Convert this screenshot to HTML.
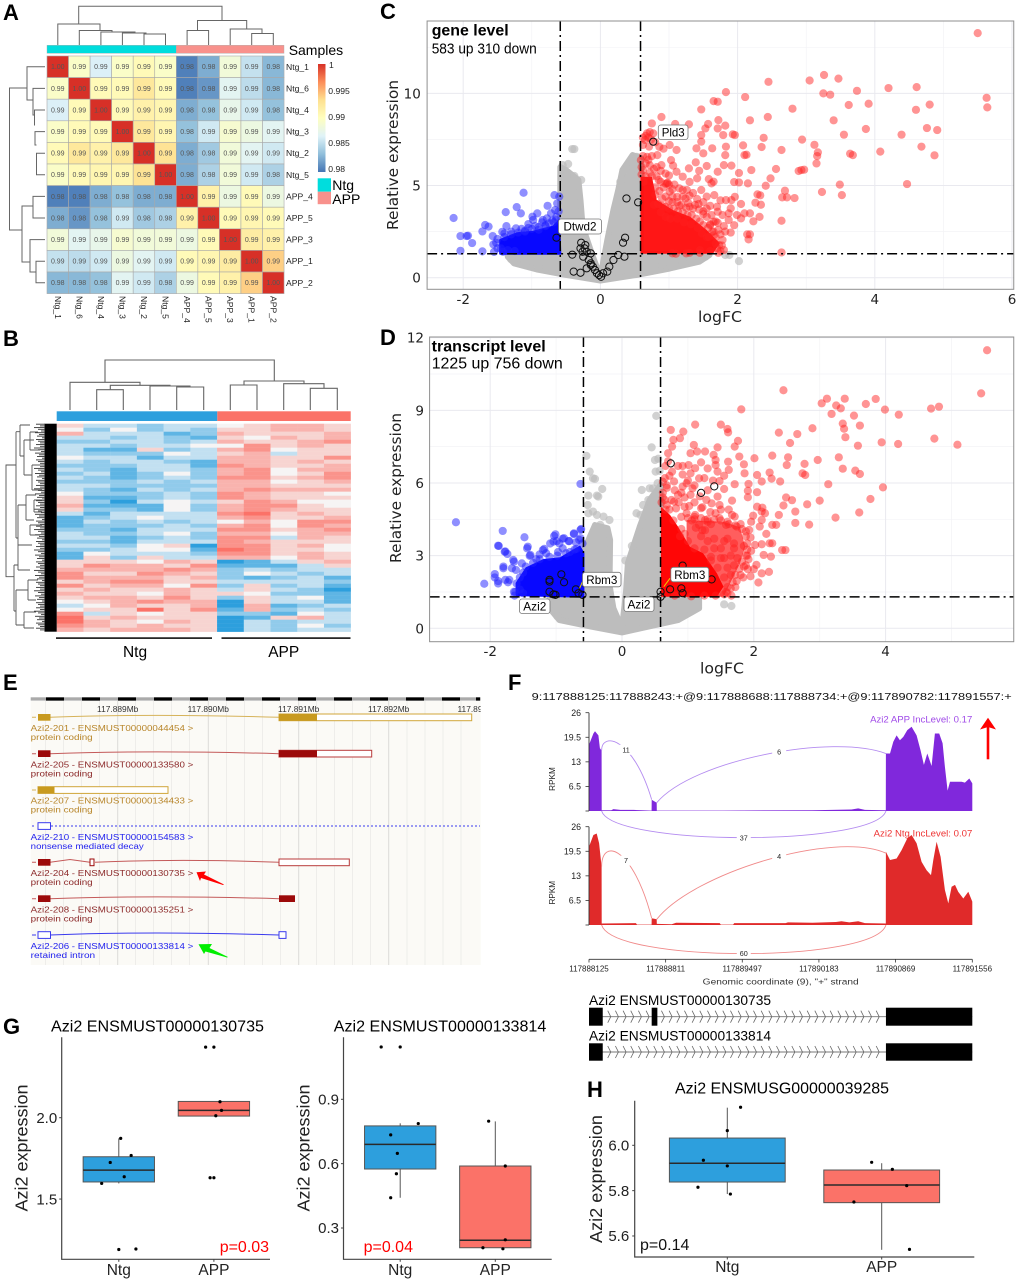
<!DOCTYPE html>
<html lang="en">
<head>
<meta charset="utf-8">
<title>Azi2 multi-panel figure</title>
<style>
html,body{margin:0;padding:0;background:#fff;}
svg{display:block;font-family:"Liberation Sans",Arial,sans-serif;}
.letter{font-size:22px;font-weight:bold;fill:#000;}
.track-text{font-size:8.6px;}
.dv{font-family:"DejaVu Sans",sans-serif;}
</style>
</head>
<body>
<svg id="figure" xmlns="http://www.w3.org/2000/svg" width="1020" height="1284" viewBox="0 0 1020 1284">
<defs>
<linearGradient id="cbar" x1="0" y1="1" x2="0" y2="0">
<stop offset="0" stop-color="#4575B4"/><stop offset=".1667" stop-color="#91BFDB"/><stop offset=".3333" stop-color="#E0F3F8"/><stop offset=".5" stop-color="#FFFFBF"/><stop offset=".6667" stop-color="#FEE090"/><stop offset=".8333" stop-color="#FC8D59"/><stop offset="1" stop-color="#D73027"/>
</linearGradient>
</defs>

<!-- PANEL A -->
<g>
<text class="letter" x="3" y="20">A</text>
<path fill="none" stroke="#666" stroke-width="1" d="M78.7 24V6.3H222V20.5M57.8 45V24H100V30.5M79.3 45V30.5H112V32M100.9 45V32H135V33M122.4 45V33H146V34M144 45V34H165.5V45M197.5 30.5V20.5H246.7V29M187.1 45V30.5H208.6V45M230.2 45V29H262V33.5M251.7 45V33.5H273.3V45"/>
<path fill="none" stroke="#666" stroke-width="1" d="M27 88H9.5V230H22M45 66.8H27V100H33M45 88.4H33V115H34.5M45 110H34.5V125H35M45 131.6H35V145H36.5M45 153.2H36.5V174.8H45M45 196.4H33V218H45M33 206H22V262H30M45 239.6H30V272H36M45 261.2H36V282.8H45"/>
<rect x="47" y="45.3" width="129.3" height="8" fill="#00DDDD" stroke="#aaa" stroke-width=".4"/>
<rect x="176.3" y="45.3" width="107.7" height="8" fill="#F8918C" stroke="#aaa" stroke-width=".4"/>
<text x="288.7" y="55" font-size="14">Samples</text>
<g id="heat-a"></g>
<rect x="318" y="64" width="7.5" height="108" fill="url(#cbar)"/>
<g font-size="8.6" fill="#222">
<text x="329" y="68">1</text>
<text x="328.3" y="94">0.995</text>
<text x="328.3" y="120">0.99</text>
<text x="328.3" y="146">0.985</text>
<text x="328.3" y="172">0.98</text>
</g>
<rect x="317.7" y="178.3" width="13.3" height="13.4" fill="#00DDDD"/>
<rect x="317.7" y="191.7" width="13.3" height="12.5" fill="#F8918C"/>
<text x="332.3" y="190" font-size="14">Ntg</text>
<text x="332.3" y="204" font-size="14">APP</text>
</g>

<!-- PANEL B -->
<g>
<text class="letter" x="3" y="346">B</text>
<path fill="none" stroke="#666" stroke-width="1.1" d="M105 382.3V360H274.3V381M70 410V382.3H140V385.3M110.3 389.7V385.3H170V386M96.7 410V389.7H123.3V410M150 410V386H190V387M176.7 410V387H203.7V410M244 385V381H304V383.7M230.3 410V385H257V410M283.7 410V383.7H324V388.3M310.3 410V388.3H337.3V410"/>
<rect x="56.7" y="411.3" width="160.6" height="9.7" fill="#2D9FDD"/>
<rect x="217.3" y="411.3" width="133.4" height="9.7" fill="#FB7268"/>
<g id="heat-b"></g>
<rect x="44.5" y="423.7" width="12.2" height="208" fill="#000"/>
<g id="gene-comb"></g>
<path fill="none" stroke="#555" stroke-width=".9" d="M16 465H6V576.7H14M16 431.7V538M14 565V611M16 431.7H20M16 538H18M20 425V456M20 425H30M20 456H24M18 505V560M18 505H26M24 440V475M24 440H34M24 475H32M26 495V520M26 495H36M26 520H34M14 565H18M14 611H16M16 590V625M16 590H28M16 625H24M28 580V600M28 580H38M28 600H36M24 612V628M24 612H36M24 628H34M18 545V570M18 545H32M18 570H30M30 432V450M30 432H38M30 450H40M32 465V490M32 465H42M32 490H42M34 500V512M34 500H42M34 512H42M30 525V535M30 525H42M30 535H40"/>
<rect x="56" y="637.3" width="156" height="1.6" fill="#111"/>
<rect x="221.5" y="637.3" width="129" height="1.6" fill="#111"/>
<text x="135" y="657" text-anchor="middle" font-size="15.5">Ntg</text>
<text x="283.7" y="657" text-anchor="middle" font-size="15.5">APP</text>
</g>

<!-- PANEL C -->
<g>
<text class="letter" x="380" y="19">C</text>
<g id="volcano-c"></g>
<text x="431.7" y="35.7" font-size="16" font-weight="bold" textLength="77" lengthAdjust="spacingAndGlyphs">gene level</text>
<text x="431.7" y="53.3" font-size="14.5" textLength="105" lengthAdjust="spacingAndGlyphs">583 up 310 down</text>
<g><rect x="558.5" y="219" width="43" height="15" rx="2.5" fill="#fff" stroke="#777" stroke-width=".8"/><text x="580" y="230.5" text-anchor="middle" font-size="12" textLength="33" lengthAdjust="spacingAndGlyphs">Dtwd2</text></g>
<g><rect x="658.3" y="125" width="29.7" height="14.5" rx="2.5" fill="#fff" stroke="#777" stroke-width=".8"/><text x="673.2" y="136.5" text-anchor="middle" font-size="12" textLength="23" lengthAdjust="spacingAndGlyphs">Pld3</text></g>
<text class="dv" x="398" y="155" transform="rotate(-90 398 155)" text-anchor="middle" font-size="15" textLength="150" lengthAdjust="spacingAndGlyphs" fill="#222">Relative expression</text>
<text class="dv" x="720" y="322" text-anchor="middle" font-size="15" textLength="44" lengthAdjust="spacingAndGlyphs" fill="#222">logFC</text>
</g>

<!-- PANEL D -->
<g>
<text class="letter" x="380" y="345">D</text>
<g id="volcano-d"></g>
<text x="431.7" y="351.7" font-size="16" font-weight="bold" textLength="114" lengthAdjust="spacingAndGlyphs">transcript level</text>
<text x="431.7" y="368.3" font-size="16" textLength="131" lengthAdjust="spacingAndGlyphs">1225 up 756 down</text>
<path d="M579.6 588.3L582.5 581.7" stroke="#e6d200" stroke-width="1"/>
<path d="M663.8 586.7L670 578.3" stroke="#e6d200" stroke-width="1"/>
<g><rect x="519.5" y="599" width="30.5" height="14.5" rx="2.5" fill="#fff" stroke="#777" stroke-width=".8"/><text x="534.8" y="610.5" text-anchor="middle" font-size="12" textLength="23" lengthAdjust="spacingAndGlyphs">Azi2</text></g>
<g><rect x="582.5" y="572.3" width="38.5" height="14.5" rx="2.5" fill="#fff" stroke="#777" stroke-width=".8"/><text x="601.8" y="583.8" text-anchor="middle" font-size="12" textLength="31" lengthAdjust="spacingAndGlyphs">Rbm3</text></g>
<g><rect x="624" y="597" width="30" height="14.5" rx="2.5" fill="#fff" stroke="#777" stroke-width=".8"/><text x="639" y="608.5" text-anchor="middle" font-size="12" textLength="23" lengthAdjust="spacingAndGlyphs">Azi2</text></g>
<g><rect x="670.8" y="567.3" width="38" height="14.5" rx="2.5" fill="#fff" stroke="#777" stroke-width=".8"/><text x="689.8" y="578.8" text-anchor="middle" font-size="12" textLength="31" lengthAdjust="spacingAndGlyphs">Rbm3</text></g>
<text class="dv" x="401" y="488" transform="rotate(-90 401 488)" text-anchor="middle" font-size="15" textLength="150" lengthAdjust="spacingAndGlyphs" fill="#222">Relative expression</text>
<text class="dv" x="722" y="673.5" text-anchor="middle" font-size="15" textLength="44" lengthAdjust="spacingAndGlyphs" fill="#222">logFC</text>
</g>

<!-- PANEL E -->
<g>
<text class="letter" x="3" y="690">E</text>
<rect x="30.7" y="701" width="450" height="264" fill="#fbfaf6"/>
<path stroke="#eeedea" stroke-width="1" d="M45.5 701V965M63.5 701V965M81.5 701V965M99.5 701V965M135.5 701V965M153.5 701V965M171.5 701V965M189.5 701V965M226.5 701V965M244.5 701V965M262.5 701V965M280.5 701V965M316.5 701V965M334.5 701V965M352.5 701V965M370.5 701V965M407 701V965M425 701V965M443 701V965M461 701V965"/>
<path stroke="#dcdbd8" stroke-width="1" d="M117.7 701V965M208.3 701V965M298.7 701V965M388.7 701V965"/>
<rect x="30.7" y="697.3" width="450" height="3.3" fill="#aaa"/>
<path stroke="#000" stroke-width="3.3" d="M46 699H64M82 699H100M118 699H136M154 699H172M190 699H208M226 699H244M262 699H280M298 699H316M334 699H352M370 699H388M406 699H424M442 699H460M476 699H480"/>
<g font-size="8.4" fill="#333" text-anchor="middle">
<text x="117.7" y="712">117.889Mb</text>
<text x="208.3" y="712">117.890Mb</text>
<text x="298.7" y="712">117.891Mb</text>
<text x="388.7" y="712">117.892Mb</text>
<text x="457.5" y="712" text-anchor="start">117.89</text>
</g>
<rect x="480.7" y="703" width="20" height="12" fill="#fff"/>
<g>
<path d="M32 717.3H36M50 717.3Q150 713.5 279 717.3" fill="none" stroke="#d6b35a" stroke-width="1"/>
<rect x="38" y="714" width="12.5" height="6.7" fill="#C89A1F"/><rect x="279" y="714" width="192.7" height="6.7" fill="#fff" stroke="#d0a63a" stroke-width="1"/><rect x="279" y="714" width="38" height="6.7" fill="#C89A1F"/>
<text class="track-text" fill="#b8862b" x="30.7" y="731" textLength="162.6" lengthAdjust="spacingAndGlyphs">Azi2-201 - ENSMUST00000044454 &gt;</text>
<text class="track-text" fill="#b8862b" x="30.7" y="740" textLength="62" lengthAdjust="spacingAndGlyphs">protein coding</text>
</g>
<g>
<path d="M32 753.7H36M50 753.7Q150 750 279 753.7" fill="none" stroke="#c45a5a" stroke-width="1"/>
<rect x="38" y="750.3" width="12.5" height="6.7" fill="#9C0A0A"/><rect x="279" y="750.3" width="92.7" height="6.7" fill="#fff" stroke="#b83a3a" stroke-width="1"/><rect x="279" y="750.3" width="38" height="6.7" fill="#9C0A0A"/>
<text class="track-text" fill="#8c2a2a" x="30.7" y="767.3" textLength="162.6" lengthAdjust="spacingAndGlyphs">Azi2-205 - ENSMUST00000133580 &gt;</text>
<text class="track-text" fill="#8c2a2a" x="30.7" y="776.3" textLength="62" lengthAdjust="spacingAndGlyphs">protein coding</text>
</g>
<g>
<path d="M32 790H36" stroke="#d6b35a" stroke-width="1"/>
<rect x="38" y="786.7" width="130" height="6.7" fill="#fff" stroke="#d0a63a" stroke-width="1"/><rect x="38" y="786.7" width="16.5" height="6.7" fill="#C89A1F"/>
<text class="track-text" fill="#b8862b" x="30.7" y="803.7" textLength="162.6" lengthAdjust="spacingAndGlyphs">Azi2-207 - ENSMUST00000134433 &gt;</text>
<text class="track-text" fill="#b8862b" x="30.7" y="812.7" textLength="62" lengthAdjust="spacingAndGlyphs">protein coding</text>
</g>
<g>
<path d="M32 826H36M51 826H480" fill="none" stroke="#3a3aee" stroke-width="1" stroke-dasharray="2 2"/>
<rect x="38" y="822.7" width="12.5" height="6.7" fill="#fff" stroke="#3a3aee" stroke-width="1"/>
<text class="track-text" fill="#2222ee" x="30.7" y="840" textLength="162.6" lengthAdjust="spacingAndGlyphs">Azi2-210 - ENSMUST00000154583 &gt;</text>
<text class="track-text" fill="#2222ee" x="30.7" y="849" textLength="113" lengthAdjust="spacingAndGlyphs">nonsense mediated decay</text>
</g>
<g>
<path d="M32 862.3H36M50 862.3L70 859.5L90 862.3M95 862.3Q180 858.5 279 862.3" fill="none" stroke="#c45a5a" stroke-width="1"/>
<rect x="38" y="859" width="12.5" height="6.7" fill="#9C0A0A"/><rect x="90" y="859" width="4" height="6.7" fill="#fff" stroke="#9C0A0A" stroke-width="1"/><rect x="279" y="859" width="70.3" height="6.7" fill="#fff" stroke="#b83a3a" stroke-width="1"/>
<text class="track-text" fill="#8c2a2a" x="30.7" y="876" textLength="162.6" lengthAdjust="spacingAndGlyphs">Azi2-204 - ENSMUST00000130735 &gt;</text>
<text class="track-text" fill="#8c2a2a" x="30.7" y="885" textLength="62" lengthAdjust="spacingAndGlyphs">protein coding</text>
</g>
<g>
<path d="M32 898.7H36M50 898.7Q150 895 279 898.7" fill="none" stroke="#c45a5a" stroke-width="1"/>
<rect x="38" y="895.3" width="12.5" height="6.7" fill="#9C0A0A"/><rect x="279" y="895.3" width="16" height="6.7" fill="#9C0A0A"/>
<text class="track-text" fill="#8c2a2a" x="30.7" y="912.3" textLength="162.6" lengthAdjust="spacingAndGlyphs">Azi2-208 - ENSMUST00000135251 &gt;</text>
<text class="track-text" fill="#8c2a2a" x="30.7" y="921.3" textLength="62" lengthAdjust="spacingAndGlyphs">protein coding</text>
</g>
<g>
<path d="M32 935H36M50 935Q150 931 279 935" fill="none" stroke="#3a3aee" stroke-width="1"/>
<rect x="38" y="931.7" width="12.5" height="6.7" fill="#fff" stroke="#3a3aee" stroke-width="1"/><rect x="279" y="931.7" width="7" height="6.7" fill="#fff" stroke="#3a3aee" stroke-width="1"/>
<text class="track-text" fill="#2222ee" x="30.7" y="949" textLength="162.6" lengthAdjust="spacingAndGlyphs">Azi2-206 - ENSMUST00000133814 &gt;</text>
<text class="track-text" fill="#2222ee" x="30.7" y="958" textLength="64.5" lengthAdjust="spacingAndGlyphs">retained intron</text>
</g>
<polygon points="196.5,872.3 206,871.5 204,874.5 224,884.5 223,885 201,878 200,881" fill="#f00"/>
<polygon points="198.5,944.3 212,944 209.5,948 228,957 227,957.5 205.5,951.5 204,954" fill="#0e0"/>
</g>

<!-- PANEL F -->
<g>
<text class="letter" x="508" y="690">F</text>
<text x="531.7" y="700" font-size="10.5" textLength="480" lengthAdjust="spacingAndGlyphs" fill="#111">9:117888125:117888243:+@9:117888688:117888734:+@9:117890782:117891557:+</text>
<g id="sashimi"></g>
<text x="972.3" y="722.7" text-anchor="end" font-size="9.6" fill="#a04ae8">Azi2 APP IncLevel: 0.17</text>
<text x="972.3" y="836.7" text-anchor="end" font-size="9.6" fill="#ee3333">Azi2 Ntg IncLevel: 0.07</text>
<text x="555" y="779" transform="rotate(-90 555 779)" text-anchor="middle" font-size="8.2" fill="#222">RPKM</text>
<text x="555" y="892.7" transform="rotate(-90 555 892.7)" text-anchor="middle" font-size="8.2" fill="#222">RPKM</text>
<text x="780.7" y="984.3" text-anchor="middle" font-size="8.6" fill="#333" textLength="156" lengthAdjust="spacingAndGlyphs">Genomic coordinate (9), "+" strand</text>
<path d="M988 759.3V727" stroke="#f00" stroke-width="2.6"/>
<polygon points="988,717.7 996,729.5 988,727 980,729.5" fill="#f00"/>
<text x="589" y="1005" font-size="13.5" textLength="182" lengthAdjust="spacingAndGlyphs">Azi2 ENSMUST00000130735</text>
<text x="589" y="1040.7" font-size="13.5" textLength="182" lengthAdjust="spacingAndGlyphs">Azi2 ENSMUST00000133814</text>
<g id="gene-models"></g>
</g>

<!-- PANELS G H -->
<g>
<text class="letter" x="3" y="1034">G</text>
<text x="51" y="1031.7" font-size="15.5" textLength="213" lengthAdjust="spacingAndGlyphs">Azi2 ENSMUST00000130735</text>
<text x="333.8" y="1031.7" font-size="15.5" textLength="212.5" lengthAdjust="spacingAndGlyphs">Azi2 ENSMUST00000133814</text>
<g id="box-g1"></g>
<g id="box-g2"></g>
<text x="27.6" y="1148" transform="rotate(-90 27.6 1148)" text-anchor="middle" font-size="17.5" textLength="127" lengthAdjust="spacingAndGlyphs" fill="#222">Azi2 expression</text>
<text x="309.4" y="1148" transform="rotate(-90 309.4 1148)" text-anchor="middle" font-size="17.5" textLength="127" lengthAdjust="spacingAndGlyphs" fill="#222">Azi2 expression</text>
<text x="219.7" y="1252" font-size="16" fill="#f00">p=0.03</text>
<text x="363.6" y="1252" font-size="16" fill="#f00">p=0.04</text>
</g>
<g>
<text class="letter" x="587" y="1097">H</text>
<text x="675" y="1093.3" font-size="15.5" textLength="214" lengthAdjust="spacingAndGlyphs">Azi2 ENSMUSG00000039285</text>
<g id="box-h"></g>
<text x="602" y="1179" transform="rotate(-90 602 1179)" text-anchor="middle" font-size="17.5" textLength="128" lengthAdjust="spacingAndGlyphs" fill="#222">Azi2 expression</text>
<text x="640" y="1250" font-size="16" fill="#111">p=0.14</text>
</g>
</svg>

<script>
/* ---------- Panel A data ---------- */
const heatARowLabels = ["Ntg_1","Ntg_6","Ntg_4","Ntg_3","Ntg_2","Ntg_5","APP_4","APP_5","APP_3","APP_1","APP_2"];
const heatAColLabels = ["Ntg_1","Ntg_6","Ntg_4","Ntg_3","Ntg_2","Ntg_5","APP_4","APP_5","APP_3","APP_1","APP_2"];
const heatAValues = [
[1,.9895,.9865,.9895,.9905,.9895,.9805,.9825,.9885,.9855,.983],
[.9895,1,.9905,.9905,.9925,.9905,.9805,.9815,.987,.9852,.983],
[.9865,.9905,1,.9905,.9915,.991,.9825,.9835,.9875,.986,.9835],
[.9895,.9905,.9905,1,.9925,.991,.9835,.986,.989,.988,.987],
[.9905,.9925,.9915,.9925,1,.993,.9825,.984,.9885,.987,.986],
[.9895,.9905,.991,.991,.993,1,.9825,.9845,.9885,.986,.9845],
[.9805,.9805,.9825,.9835,.9825,.9825,1,.9915,.988,.9905,.988],
[.9825,.9815,.9835,.986,.984,.9845,.9915,1,.9905,.991,.9905],
[.9885,.987,.9875,.989,.9885,.9885,.988,.9905,1,.992,.9915],
[.9855,.9852,.986,.988,.987,.986,.9905,.991,.992,1,.994],
[.983,.983,.9835,.987,.986,.9845,.988,.9905,.9915,.994,1]
];
/* ---------- Panel B data (row z-scores, 6 Ntg then 5 APP) ---------- */
const heatBValues = [
[1,-1,-1,-2,-1,-1,0,1,2,2,1],[0,-2,0,-2,-1,-2,1,1,2,2,1],[2,-1,-1,-1,-3,-2,2,1,1,1,2],[-1,-1,-2,-1,-2,-3,1,0,2,1,2],
[-2,-2,-1,-1,-2,-1,2,1,1,2,3],[-1,-1,-2,-1,-1,0,0,3,1,2,1],[-1,-3,-3,1,-2,-1,2,3,0,1,1],[-1,-2,-2,-2,0,-1,1,2,-1,1,1],
[0,-1,-1,-3,-1,-1,2,2,1,1,3],[-1,-2,-1,-1,-2,-3,2,2,1,2,1],[-2,-2,-2,-1,-1,-3,3,2,1,1,2],[-1,-2,-3,-1,-1,-2,2,3,0,2,2],
[-2,-1,-3,-2,0,-2,2,3,0,1,3],[-1,-2,-3,-2,-1,-2,3,3,1,2,3],[-2,-2,-2,-1,-2,-1,2,2,0,1,2],[-1,-1,-2,-2,-2,-2,2,2,1,1,1],
[-1,-2,-3,-1,-2,-1,2,3,2,2,2],[0,-2,-2,-2,-1,-2,3,2,1,1,0],[1,-3,-3,-2,-1,-2,3,2,1,1,1],[1,-2,-4,-1,0,-1,1,3,2,0,0],
[2,-3,-3,-3,0,-2,2,3,3,1,0],[1,-2,-2,-3,0,-2,2,3,2,1,1],[-1,-3,-1,-1,-1,-1,3,4,1,2,1],[-3,-2,-1,0,-1,-1,2,3,1,1,2],
[-3,-1,-2,-1,-2,-1,0,2,0,3,3],[-3,-2,-2,-2,-1,-2,2,3,0,3,2],[-2,-2,-3,-1,-1,-1,3,3,1,2,3],[-1,-2,-2,-1,0,-2,2,2,0,2,2],
[-1,-1,-3,-2,-1,-2,3,3,-1,2,1],[-2,-2,-3,-1,-1,-1,3,2,1,1,1],[-1,-1,-2,0,1,-4,3,3,1,2,0],[-2,-2,-1,0,0,-3,4,3,1,1,0],
[-3,0,-1,-1,-1,-2,3,3,1,2,1],[-3,1,-2,1,-1,-1,2,2,0,2,1],[1,1,1,0,2,1,-4,-3,-1,1,2],[1,3,2,2,1,3,-3,-3,-3,-1,1],
[2,2,2,2,3,2,-2,-1,-2,-1,-1],[3,1,1,3,2,1,-2,0,-1,-2,-1],[3,2,2,2,1,2,-2,-3,-2,-1,-3],[1,2,3,3,1,1,-1,-1,-1,-1,-2],
[3,1,2,2,0,3,-2,1,-2,-1,-3],[1,2,1,1,2,1,-1,1,-1,-2,-4],[2,1,1,0,2,1,1,0,-2,-2,-3],[1,2,2,1,3,1,-2,1,-1,0,-3],
[0,1,2,3,2,2,-4,1,-1,-1,-3],[-1,0,2,1,1,2,-4,2,-3,-2,-1],[0,1,1,4,1,3,-3,2,-2,-1,-2],[3,-1,1,0,1,1,-2,-2,-3,0,-1],
[4,1,2,1,1,1,-4,-3,1,2,-1],[4,2,1,0,2,1,-4,-1,-2,-1,-1],[3,2,1,2,1,1,-4,-1,-2,0,-2],[2,1,2,2,2,1,-4,-1,-2,-1,-1]
];
const combReach = [9,5,11,7,4,10,6,8,3,9,7,5];
/* ---------- Panel C data (logFC, -log10 p) ---------- */
const cXTicks = [-2,0,2,4,6];
const cYTicks = [0,5,10];
const cThresholdsX = [-0.585,0.585];
const cThresholdY = 1.3;
const cGreyMass = [[-1.35,1.14],[-1.26,.78],[-.93,.45],[-.5,.15],[0,-.15],[.53,.15],[1.01,.5],[1.44,.87],[1.59,1.23],[.59,1.3],[.59,6.5],[.47,6.65],[.32,5.84],[.26,4.75],[.19,3.67],[.1,2.04],[0,.05],[-.11,1.14],[-.26,2.77],[-.29,4.2],[-.32,5.3],[-.5,5.84],[-.585,6],[-.585,1.3],[-1.35,1.3]];
const cGreyPoints = [[-.41,6.98],[-.38,6.98],[-.47,6.17],[-.55,6.11],[-.49,5.57],[-.38,5.52],[-.28,5.3],[.35,5.8],[.44,5.66],[.29,5.2],[.48,6.56],[.53,6.56],[2.02,.9],[1.82,1.23],[1.88,1.23],[1.53,1.14],[-1.3,1.1],[-1.1,.9],[-.8,.55],[.95,.6],[1.3,.95],[-1.3,1.0],[-1.1,.75],[-.9,.55],[.9,.7],[1.2,.85],[1.45,1.0]];
const cBlueMass = [[-1.46,1.3],[-1.46,2.05],[-1.22,2.41],[-.98,2.5],[-.69,2.77],[-.6,3.13],[-.585,1.3]];
const cBluePoints = [[-1.12,4.61],[-.67,4.48],[-.6,4.4],[-2.14,3.24],[-1.38,3.56],[-1.22,3.83],[-1.16,3.49],[-.77,3.9],[-.99,3.31],[-.92,3.49],[-.72,3.49],[-.66,3.67],[-.63,4.03],[-2.04,2.26],[-1.93,2.28],[-1.95,2.26],[-1.87,1.88],[-2.04,1.46],[-1.72,1.43],[-1.72,2.51],[-1.68,2.86],[-1.63,2.77],[-1.57,2.26],[-1.56,1.81],[-1.43,2.49],[-1.37,2.8],[-1.23,2.68],[-1.45,1.59],[-1.42,1.41],[-1.05,2.91],[-.98,3.13],[-.84,3.13],[-.78,3.22],[-1.5,2.1],[-1.4,2.4],[-1.3,2.5],[-1.1,2.55],[-.9,2.75],[-.8,2.85],[-.7,3.1],[-1.25,1.45],[-1.35,1.5],[-1.05,2.7],[-.95,2.8],[-.64,3.3],[-.68,3.0],[-.61,3.6],
[-1.5,1.6],[-1.52,1.9],[-1.4,2.2],[-1.3,2.35],[-1.2,2.45],[-1.1,2.5],[-1,2.65],[-.9,2.6],[-.8,2.8],[-.75,2.95],[-.65,3.15],[-1.55,1.4],[-1.15,2.65],[-.85,3]];
const cRedMass = [[.585,1.3],[.585,5.48],[.75,5.48],[.82,4.22],[1.06,3.67],[1.31,3.31],[1.55,2.59],[1.74,1.87],[1.64,1.3]];
const cRedPoints = [[5.5,13.27],[5.63,9.76],[5.64,9.24],[3.26,11],[3.47,10.8],[3.05,10.7],[2.45,10.63],[3.25,10],[3.35,9.93],[3.74,10.14],[4.2,10.29],[4.61,10.34],[1.83,10.07],[2.11,9.8],[1.65,9.58],[1.71,9.55],[1.47,9.13],[2.8,9.17],[3.62,9.37],[3.91,9.44],[4.6,9.11],[4.8,9.39],[2.18,8.54],[2.44,8.72],[3.4,8.54],[3.87,8.07],[4.76,8.12],[4.91,8.01],[3.55,7.76],[4.39,7.76],[2.38,7.59],[2.94,7.49],[3.12,7.21],[2.35,7.09],[4.68,7.11],[2.64,6.93],[4.08,6.84],[3.64,6.73],[3.68,6.65],[3.17,6.8],[3.16,6.6],[4.87,6.64],[3.15,6.2],[2.89,5.79],[2.93,5.84],[2.97,5.86],[2.56,5.9],[2.48,5.39],[3.49,5.05],[4.47,5.08],[2.41,4.99],[3.23,4.65],[3.52,4.48],[2.69,4.72],[2.65,4.36],[2.72,4.36],[2.83,4.32],[2.64,3.09],[2.64,1.37],[2.32,3.3],[2.26,4.07],[2.34,3.96],[2.29,4.52],[2.33,4.47],[2.15,5.12],[2.02,5.17],[1.95,5.19],[2.2,5.84],[2.02,5.68],[2.13,6.67],[2.08,7.18],[2.1,6.65],[1.93,7.78],[1.82,8.25],[1.72,8.55],[1.57,8.34],[1.29,8.32],[1.09,8.34],[.89,8.72],[.75,8.37],
[.59,6.38],[.62,5.84],[.65,7.47],[.68,7.83],[.77,7.83],[1.01,7.2],[1.11,6.93],[1.03,6.38],[1.06,6.08],[.89,6.11],[.83,6.65],[.68,6.56],[.71,7.11],[1.4,7.02],[1.5,6.75],[1.39,6.26],[1.29,5.93],[1.44,5.8],[1.55,6.06],[1.71,5.75],[1.8,6.11],[1.91,6.08],[1.47,7.74],[1.47,7.38],[1.53,8.1],[1.83,7.11],[1.82,6.65],[1.79,7.74],[1.71,8.1],[1.96,7.74],[1.63,7.02],[1.11,5.75],[1.2,5.48],[1.41,5.39],[.97,5.12],[1.01,4.67],[1.2,4.76],[1.26,4.76],[1.47,4.76],[1.65,5.21],[1.62,5.12],[1.66,4.48],[1.12,4.39],[1.41,4.27],[1.83,4.21],[1.91,4.21],[1.96,4.39],[2.05,4],[2.1,3.49],[1.9,3.76],[1.99,3.4],[2.05,3.22],[1.87,3.49],[1.71,3.58],[1.65,3.04],[1.71,2.98],[1.87,3.13],[1.82,2.5],[1.68,1.86],[1.73,1.77],[2.14,2.35],[2.18,2.35],[2.16,2.08],[2.23,3.06],[2.18,3.49],
[.75,5.5],[.85,5.3],[.95,5.1],[1,5.05],[.8,4.9],[1.05,4.1],[1.15,3.9],[1.25,3.8],[1.35,3.75],[1.5,3.6],[1.55,3.3],[1.6,2.9],[1.65,2.5],[1.55,2.2],[1.45,1.5],[1.3,1.35],[1.1,1.3],
[.6,5.6],[.63,5.2],[.66,5.5],[.72,5.7],[.6,6],[.66,6.2],[.72,6.1],[.78,5.9],[.66,7.7],[.72,7.9],[.62,7.2],[.74,7.5],[.82,5.5],[.88,5.2],[.92,4.9],[.98,5.15],[.86,4.7],[.8,4.5],[.9,4.3],[.95,4.4],[1,4.15],[1.05,4.4],[1.12,4.1],[1.18,3.95],[1.24,4.3],[1.3,3.85],[1.38,3.95],[1.44,3.7],[1.5,3.45],[1.55,3.75],[1.62,3.4],[1.68,3.05],[1.6,2.85],[1.72,2.6],[1.65,2.3],[1.78,2.05],[1.7,1.6],[1.75,1.45],[1.6,1.45],[1.45,1.35],[1.25,1.32],[1.05,1.32],[1.35,4.6],[1.3,4.45],[1.15,4.85],[1.08,5.05],[1.3,5.2],[1.55,4.4],[1.75,4.2],[1.58,5.35],
[.84,4],[.9,3.9],[.95,3.85],[1,3.75],[1.07,3.75],[1.13,3.6],[1.2,3.55],[1.27,3.4],[1.33,3.4],[1.4,3.2],[1.45,3.05],[1.5,2.85],[1.57,2.7],[1.63,2.5],[1.68,2.2],[1.77,1.75],[1.8,1.5],[1.72,1.35],[.88,3.55],[.78,3.95],[.95,3.3],[1.02,3.2],[1.12,3.2],[1.22,3],[1.32,2.9],[1.42,2.7],[1.48,2.4],[1.58,2.2],[.62,6.6],[.7,6.4],[.75,6.6],[.82,6],[.88,5.8],[.95,5.65],[1,5.55],[.62,7.6],[.7,7.6],[.8,7.35],[.86,7.1],[.92,7],[1.05,4.8],[1.2,4.4],[1.28,4.05],[1.43,4],[1.5,4.1],[1.6,3.9],[1.7,3.85],[1.78,3.4],[1.8,2.8],[1.9,2.45],[1.95,2.85],[1.75,2.35]];
const cOpenPoints = [[.77,7.38],[.38,4.3],[.55,4.09],[-.64,2.17],[.36,2.17],[.33,1.9],[-.41,1.25],[-.28,1.9],[-.22,1.77],[-.29,1.59],[-.2,1.41],[-.25,1.14],[-.17,.96],[-.14,.78],[-.11,.6],[-.08,.42],[-.05,.24],[-.02,.14],[.01,.05],[.04,.24],[.1,.33],[.13,.6],[.19,.96],[.26,1.23],[.35,1.14],[-.39,.33],[-.29,.27],[-.2,.51],[-.14,.69],[-.23,1.59],[-.26,1.41],[-.14,1.32]];
/* ---------- Panel D data ---------- */
const dXTicks = [-2,0,2,4];
const dYTicks = [0,3,6,9,12];
const dThresholdsX = [-0.585,0.585];
const dThresholdY = 1.3;
const dGreyMass = [[-.585,1.3],[-1.1,1.3],[-1.1,.83],[-.95,.34],[-.47,.07],[0,-.17],[.28,0],[.85,.34],[1.17,.83],[1.17,1.3],[.585,1.3],[.585,5.92],[.42,5.3],[.27,4.2],[.17,3.37],[.09,2.7],[.06,1.5],[0,0],[-.13,.83],[-.19,1.79],[-.18,3.65],[-.22,4.13],[-.41,4.26],[-.585,3.17]];
const dGreyPoints = [[-.54,7.12],[-.49,6.47],[-.44,6.19],[-.41,6.17],[-.3,5.75],[-.36,5.44],[-.38,5.48],[-.51,5.48],[-.52,5.09],[-.51,4.75],[-.44,4.82],[-.38,4.68],[-.28,4.61],[-.19,4.47],[-.33,4.27],[.28,4.68],[.22,4.75],[.32,5.09],[.3,5.71],[.42,5.78],[.4,5.3],[.52,8.77],[.45,7.47],[.5,6.95],[.51,6.47],[1.66,.92],[1.55,.99],[.54,5.99],[.47,5.78],[.57,6.5],[.55,7],[.05,2.8],[.15,3.4],[-.98,.5],[1.05,.7]];
const dBlueMass = [[-1.6,1.37],[-1.6,1.86],[-1.45,2.48],[-1.19,2.82],[-.94,2.89],[-.64,3.37],[-.585,3.1],[-.585,1.3]];
const dBluePoints = [[-.63,5.96],[-2.52,4.38],[-1.81,4.02],[-1.48,3.76],[-1.87,3.4],[-1.43,3.37],[-1.77,3.17],[-1.74,3.07],[-2.09,1.84],[-1.93,2.24],[-1.88,1.95],[-1.8,2.55],[-1.77,2],[-1.71,2],[-1.64,2.75],[-1.61,2.41],[-1.64,1.51],[-1.01,3.88],[-1.04,3.58],[-.88,3.72],[-.73,3.92],[-.62,4.1],[-.63,3.72],[-1.18,3.28],[-1.39,3.03],[-1.52,2.68],[-1.67,2.48],[-.95,3.5],[-.8,3.6],[-.7,3.55],[-1.25,3.05],[-1.3,2.85],[-1.55,1.6],[-1.5,1.45],
[-1.88,3.41],[-1.78,3.16],[-1.65,2.82],[-1.8,2.48],[-1.93,2.1],[-1.88,1.85],[-1.73,1.9],[-1.63,1.35],[-1.44,3.3],[-1.4,2.99],[-1.2,3.23],[-1.03,3.81],[-1.09,3.5],[-.99,3.6],[-.9,3.7],[-.81,3.6],[-.73,3.89],[-.63,4.06],[-.65,3.65],[-.97,3.15],[-.79,3.15],[-.69,3.28],
[-1.62,1.5],[-1.6,1.85],[-1.55,2.1],[-1.46,2.55],[-1.35,2.7],[-1.25,2.85],[-1.1,2.95],[-.98,3],[-.85,3.1],[-.72,3.25],[-.6,3.5],[-1.5,2.3],[-1.15,3.1],[-.9,3.3]];
const dRedCore = [[.59,1.3],[.59,5.02],[.73,4.68],[.85,4.2],[1.03,3.37],[1.23,3.1],[1.44,2.27],[1.54,1.72],[1.44,1.3]];
const dRedMass = [[.98,1.3],[.98,4.47],[1.54,4.4],[1.79,4.17],[1.87,3.37],[1.79,2.68],[1.64,1.86],[1.54,1.3]];
const dRedPoints = [[5.54,11.48],[5.45,9.7],[2.45,9.83],[1.81,9.04],[3.11,9.48],[3.03,9.29],[3.25,9.2],[3.32,9.08],[3.38,9.48],[3.7,9.26],[3.85,9.47],[3.99,9.03],[4.2,8.82],[4.69,9.07],[4.81,9.15],[3.18,8.85],[3.52,8.78],[3.35,8.45],[3.61,8.37],[3.37,8.24],[2.89,8.26],[2.66,8.02],[2.38,8.08],[2.55,7.65],[3.39,7.89],[3.58,7.54],[3.94,7.68],[4.19,7.61],[4.74,7.83],[5.09,7.58],[2.28,7.13],[2.52,7.06],[3.29,7.06],[2.97,6.95],[2.5,6.74],[2.77,6.79],[2.01,7.02],[3.35,6.59],[3.54,6.51],[3.61,6.37],[2.74,6.4],[2.78,6.33],[2.24,6.43],[2.27,6.18],[2.05,6.33],[2.12,6.06],[2.4,6.06],[3.13,5.95],[3.96,5.82],[1.92,5.96],[1.91,5.68],[2.05,5.62],[1.91,5.41],[2.49,5.4],[2.58,5.29],[3,5.27],[3.77,5.34],[2.81,5.12],[2.45,5.07],[2.63,4.82],[3.6,4.78],[2.38,4.68],[3.24,4.57],[2.63,4.35],[2.84,4.28],[2.28,4.27],[2.34,4.27],[2.13,4.98],[2.05,5.02],[2.12,4.82],[2.17,4.75],[1.99,4.65],[2.12,4.47],[1.96,4.4],[2.09,4.2],[2.19,3.9],[2.24,3.51],[2.12,3.47],[2.02,3.44],[2.28,3.51],[2.15,3.03],[2.26,2.96],[2.43,3.23],[2.48,3.23],[2.04,2.62],[1.91,2.44],[2,2.44],[2.12,2.27],[2.23,2.33],[2.07,1.89],[1.66,1.35],
[.74,8.19],[.93,8.12],[.78,7.78],[.88,7.85],[.76,7.5],[1.11,8.41],[1.5,8.41],[1.6,8.23],[1.61,8.09],[1.76,7.74],[1.71,7.5],[1.45,7.47],[1.09,7.57],[.7,7.23],[1.04,7.23],[1.14,7.3],[1.26,7.3],[1.39,7.16],[1.78,7.09],[1.2,6.85],[1.42,6.95],[1.61,6.88],[1.85,6.77],[1.01,6.74],[1.11,6.61],[1.42,6.74],[1.45,6.47],[1.62,6.54],[1.86,6.4],[1.04,6.4],[1.17,6.19],[1.48,6.08],[1.71,5.95],[.76,6.47],[.79,6.06],[.98,5.99],[1.07,5.78],[1.55,5.75],[.85,5.51],[1.04,5.51],[1.45,5.44],[1.67,5.27],[.95,5.02],[1.2,4.96],[1.36,5.16],[1.48,5.09],[.79,5.23],[1.11,4.68],[1.3,4.4],[1.42,4.75],[1.67,4.68],[1.71,4.61],[1.26,4.47],[1.17,4.27],[1.58,4.27],[1.74,4.2],[1.93,4.06],[.65,6.2],[.62,5.6],[.68,5.9],[.9,5.6],[1.02,5.05],[1.1,4.6],[1.22,4.05],[1.85,3.4],[1.9,3],[1.88,2.6],[1.84,2.1],[1.72,1.7],[1.6,1.45],
[.62,5.4],[.68,5.1],[.75,5.3],[.66,4.9],[.82,4.95],[.9,4.6],[.86,5.2],[.98,4.75],[1.06,4.45],[1.12,4.15],[1.26,4.05],[1.35,4.3],[1.48,4.55],[1.6,4.4],[1.8,4.3],[1.88,4],[1.95,3.75],[1.9,3.5],[1.96,3.2],[1.92,2.85],[1.85,2.55],[1.8,2.2],[1.95,2.15],[1.74,1.95],[1.65,1.65],[1.55,1.4],[1.42,1.35],[1.25,1.35],[1.05,1.32],[.8,1.35],[1.4,3.7],[1.55,3.6],[1.7,3.5],[1.65,3],[1.75,2.9],[1.5,2.9],[1.6,2.5],[1.35,2.95],[.68,5.8],[.72,6.3],[.66,6.7],[.62,6.05],[.7,6.9],[.85,6.7],[.92,6.35],[1,6.1],[1.1,5.9],[1.18,5.45],[1.28,5.3],[1.3,5.7],[1.38,6.1],[.92,5.85],
[1,4.55],[1.1,4.5],[1.2,4.55],[1.3,4.5],[1.4,4.5],[1.5,4.45],[1.62,4.3],[1.72,4.25],[1.82,4.1],[1.88,3.8],[1.9,3.25],[1.88,3],[1.82,2.75],[1.78,2.45],[1.72,2.2],[1.68,1.9],[1.6,1.7],[1.58,1.5],[.9,4.1],[.95,3.9],[1,3.6],[.88,3.8],[.78,4.45],[.72,4.9],[.65,5.3],[.6,5.2],[1.1,3.3],[1.25,3.25],[1.35,2.8],[1.45,2.5],[1.55,2.1],[1.5,3.3],[1.6,3.7],[1.7,3.3],[1.4,3.3],[1.3,3.6],[1.2,3.8],[1.7,2.6],[1.55,2.9],[1.65,2.2],[.8,5.7],[.95,5.4],[1.1,5.2],[1.22,5],[1.34,4.8],[1.5,4.9],[1.62,4.9],[.92,6.7],[1.3,6.6],[1.25,6.2],[1.55,6.3]];
const dOpenPoints = [[.74,6.81],[1.2,5.59],[1.4,5.86],[-1.1,2],[-1.1,1.93],[-.92,2.23],[-.88,1.9],[-1.1,1.51],[-1.04,1.4],[-1.01,1.38],[-.7,1.61],[-.66,1.45],[-.6,1.38],[.585,1.51],[.585,1.3],[.73,1.61],[.9,1.65],[.92,1.45],[1.36,2.02],[.92,2.59]];
/* ---------- Panel F data ---------- */
const sashimiStart = 117888125;
const sashimiSpan = 3431;
const sashimiYTicks = [6.5,13,19.5,26];
const sashimiXTicks = [117888125,117888811,117889497,117890183,117890869,117891556];
const appCoverage = [[0,17.5],[39,20.5],[54,21.1],[84,20],[98,16.6],[113,16],[114,.2],[200,.2],[218,.5],[280,.3],[400,.3],[560,.1],[561,3],[606,2.2],[607,.1],[1200,.1],[2000,.2],[2350,.4],[2410,.7],[2470,.3],[2657,.2],[2658,15.2],[2694,15.2],[2724,18.3],[2753,20],[2783,18.7],[2813,19.6],[2849,21.4],[2888,22.3],[2932,20],[2968,16],[2998,12.2],[3028,15.2],[3067,11.9],[3096,20.5],[3135,20.5],[3165,17.9],[3186,11.7],[3210,5.4],[3231,7.75],[3290,7.75],[3335,7.75],[3365,7.5],[3404,8.6],[3431,7.3]];
const ntgCoverage = [[0,20.7],[39,23.8],[69,24.2],[90,21.6],[113,15.4],[114,.4],[420,.5],[430,.1],[560,.1],[561,1.8],[606,1.5],[607,.3],[740,.2],[780,.6],[1170,.5],[1180,.1],[1290,.1],[1300,.5],[1760,.5],[1780,.7],[2000,.6],[2210,.8],[2260,1],[2330,.7],[2410,1],[2470,.5],[2657,.4],[2658,19.4],[2694,17.2],[2753,17.6],[2798,19.8],[2849,22.9],[2888,23.8],[2932,21.6],[2977,16.7],[3022,14.5],[3061,13.2],[3082,17.2],[3111,22],[3147,18],[3186,9.25],[3216,5.7],[3246,10.1],[3276,10.6],[3305,8.8],[3350,7],[3395,8.8],[3431,6.2]];
const junctionStart = [113,606,113];
const junctionEnd = [561,2658,2658];
const appJunctionReads = [11,6,37];
const ntgJunctionReads = [7,4,60];
const appArcFrom = [16,2.2,0];
const appArcTo = [3,15.2,0];
const appArcC1 = [21,13.6,-9.4];
const appArcC2 = [19.6,20.5,-9.4];
const ntgArcFrom = [15.4,1.5,0];
const ntgArcTo = [1.8,19,0];
const ntgArcC1 = [23.3,13.7,-10.1];
const ntgArcC2 = [20.7,25.1,-10.1];
const modelExons130735 = [[0,123],[561,612],[2658,3431]];
const modelExons133814 = [[0,123],[2658,3431]];
/* ---------- Panel G / H data ---------- */
const boxCategories = ["Ntg","APP"];
const g1Ticks = [1.5,2.0];
const g1Q1 = [1.605,2.01], g1Median = [1.678,2.045], g1Q3 = [1.76,2.10], g1Low = [1.596,2.01], g1High = [1.873,2.10];
const g1NtgPoints = [[.02,1.873],[.13,1.768],[-.09,1.725],[.057,1.637],[-.18,1.596],[0,1.19],[.18,1.193]];
const g1AppPoints = [[-.087,2.434],[0,2.434],[.064,2.098],[.08,2.045],[.02,2.012],[-.04,1.631],[0,1.631]];
const g2Ticks = [0.3,0.6,0.9];
const g2Q1 = [.575,.208], g2Median = [.69,.243], g2Q3 = [.776,.589], g2Low = [.441,.208], g2High = [.788,.797];
const g2NtgPoints = [[-.2,1.144],[0,1.144],[.19,.787],[-.1,.734],[-.03,.648],[-.04,.553],[-.1,.441]];
const g2AppPoints = [[-.07,.798],[.105,.589],[.105,.245],[-.13,.208],[.08,.203]];
const hTicks = [5.6,5.8,6.0];
const hQ1 = [5.838,5.747], hMedian = [5.921,5.825], hQ3 = [6.032,5.891], hLow = [5.785,5.539], hHigh = [6.166,5.921];
const hNtgPoints = [[.086,6.168],[0,6.065],[-.155,5.934],[0,5.909],[-.19,5.815],[.02,5.785]];
const hAppPoints = [[-.065,5.925],[.069,5.894],[.162,5.822],[-.18,5.75],[.18,5.541]];

/* ---------- helpers ---------- */
const NS = 'http://www.w3.org/2000/svg';
function el(parent, tag, attrs, txt) {
  const n = document.createElementNS(NS, tag);
  for (const k in attrs) n.setAttribute(k, attrs[k]);
  if (txt !== undefined) n.textContent = txt;
  parent.appendChild(n);
  return n;
}
function hex(c){return [parseInt(c.slice(1,3),16),parseInt(c.slice(3,5),16),parseInt(c.slice(5,7),16)];}
function mix(a,b,t){const A=hex(a),B=hex(b);return 'rgb('+A.map((v,i)=>Math.round(v+(B[i]-v)*t)).join(',')+')';}
const rdylbu = ['#4575B4','#91BFDB','#E0F3F8','#FFFFBF','#FEE090','#FC8D59','#D73027'];
function colorA(v){
  const t=Math.max(0,Math.min(.99999,(v-.98)/.02))*6;
  const i=Math.floor(t);
  return mix(rdylbu[i],rdylbu[i+1],t-i);
}
function colorB(v){
  return v<0 ? mix('#f4f6f8','#2D9FDD',-v/4) : mix('#f6f4f4','#FB7268',v/4);
}

/* ---------- Panel A ---------- */
(function(){
  const g=document.getElementById('heat-a');
  const x0=47,y0=56,cw=21.55,ch=21.6;
  heatAValues.forEach((row,r)=>{
    row.forEach((v,c)=>{
      const cell=el(g,'rect',{x:x0+c*cw,y:y0+r*ch,width:cw,height:ch,fill:colorA(v),stroke:'#a9a9a9','stroke-width':.6});
      
      
      const t=el(g,'text',{x:x0+(c+.5)*cw,y:y0+(r+.5)*ch+2.4,'text-anchor':'middle','font-size':7,fill:'#555'},v.toFixed(2));
      
      
    });
    const rl=el(g,'text',{x:286,y:y0+(r+.5)*ch+3,'font-size':8.6,fill:'#222'},heatARowLabels[r]);
    
    
  });
  heatAColLabels.forEach((lab,c)=>{
    const cx=x0+(c+.5)*cw-3;
    const cl=el(g,'text',{transform:'translate('+cx+',296) rotate(90)','font-size':8.6,fill:'#222'},lab);
    
    
  });
})();

/* ---------- Panel B ---------- */
(function(){
  const g=document.getElementById('heat-b');
  const x0=56.7,y0=423.7,cw=294/11,ch=208/heatBValues.length;
  heatBValues.forEach((row,r)=>row.forEach((v,c)=>{
    const cell=el(g,'rect',{x:x0+c*cw,y:y0+r*ch,width:cw+.2,height:ch+.2,fill:colorB(v)});
    
    
  }));
  const comb=document.getElementById('gene-comb');
  for(let y=424.2,i=0;y<631.5;y+=1.7,i++){
    const leaf=el(comb,'line',{x1:45-combReach[i%combReach.length],x2:45,y1:y,y2:y,stroke:'#333','stroke-width':.9});
    
    
  }
})();

/* ---------- Panels C & D ---------- */
function polyPoints(arr,sx,sy){return arr.map(p=>sx(p[0]).toFixed(1)+','+sy(p[1]).toFixed(1)).join(' ');}
function drawDots(g,arr,sx,sy,fill,opacity,name){
  arr.forEach(p=>{
    const c=el(g,'circle',{cx:sx(p[0]),cy:sy(p[1]),r:4.1,fill:fill,'fill-opacity':opacity});
    
    
  });
}
function drawFrame(g,f,sx,sy,xt,yt,minorX,minorY,tickRight,tickBase){
  const bg=el(g,'rect',{x:f.x0,y:f.y0,width:f.x1-f.x0,height:f.y1-f.y0,fill:'#fff'});
  
  
  minorX.forEach(v=>{
    const l=el(g,'line',{x1:sx(v),x2:sx(v),y1:f.y0,y2:f.y1,stroke:'#f3f3f6','stroke-width':.7});
    
    
  });
  minorY.forEach(v=>{
    const l=el(g,'line',{x1:f.x0,x2:f.x1,y1:sy(v),y2:sy(v),stroke:'#f3f3f6','stroke-width':.7});
    
    
  });
  xt.forEach(v=>{
    const l=el(g,'line',{x1:sx(v),x2:sx(v),y1:f.y0,y2:f.y1,stroke:'#e9e9ef','stroke-width':1});
    
    
    const t=el(g,'text',{x:sx(v),y:tickBase,'text-anchor':'middle','font-size':13.5,fill:'#222','class':'dv'},String(v));
    
    
  });
  yt.forEach(v=>{
    const l=el(g,'line',{x1:f.x0,x2:f.x1,y1:sy(v),y2:sy(v),stroke:'#e9e9ef','stroke-width':1});
    
    
    const t=el(g,'text',{x:tickRight,y:sy(v)+5,'text-anchor':'end','font-size':13.5,fill:'#222','class':'dv'},String(v));
    
    
  });
}
function drawThresholds(g,f,sx,sy,xs,yv){
  xs.forEach(v=>{
    const l=el(g,'line',{x1:sx(v),x2:sx(v),y1:f.y0,y2:f.y1,stroke:'#000','stroke-width':1.5,'stroke-dasharray':'10 4 2 4'});
    
    
  });
  const h=el(g,'line',{x1:f.x0,x2:f.x1,y1:sy(yv),y2:sy(yv),stroke:'#000','stroke-width':1.5,'stroke-dasharray':'10 4 2 4'});
  
  
}
function drawOpen(g,arr,sx,sy){
  arr.forEach(p=>{
    const c=el(g,'circle',{cx:sx(p[0]),cy:sy(p[1]),r:3.6,fill:'none',stroke:'#111','stroke-width':1});
    
    
  });
}
function drawBorder(g,f){
  const b=el(g,'rect',{x:f.x0,y:f.y0,width:f.x1-f.x0,height:f.y1-f.y0,fill:'none',stroke:'#8f8f8f','stroke-width':1});
  
  
}
function drawMass(g,arr,sx,sy,fill,op,sw,name){
  const p=el(g,'polygon',{points:polyPoints(arr,sx,sy),fill:fill,'fill-opacity':op,stroke:sw?fill:'none','stroke-width':sw,'stroke-linejoin':'round'});
  
  
}
(function(){
  const g=document.getElementById('volcano-c');
  const f={x0:427.1,x1:1013.75,y0:21,y1:289.3};
  const sx=v=>600.4+68.6*v, sy=v=>277.7-18.43*v;
  drawFrame(g,f,sx,sy,cXTicks,cYTicks,[-1,1,3,5],[2.5,7.5,12.5],420.8,304);
  drawMass(g,cGreyMass,sx,sy,'#bdbdbd',1,6,'non-significant-mass');
  drawDots(g,cGreyPoints,sx,sy,'#bdbdbd',.7,'non-significant-point');
  drawMass(g,cBlueMass,sx,sy,'#0808ff',1,2,'down-regulated-mass');
  drawDots(g,cBluePoints,sx,sy,'#1f1fff',.5,'down-regulated-point');
  drawMass(g,cRedMass,sx,sy,'#ff0a0a',.95,0,'up-regulated-mass');
  drawDots(g,cRedPoints,sx,sy,'#ff2020',.48,'up-regulated-point');
  drawOpen(g,cOpenPoints,sx,sy);
  drawThresholds(g,f,sx,sy,cThresholdsX,cThresholdY);
  drawBorder(g,f);
})();
(function(){
  const g=document.getElementById('volcano-d');
  const f={x0:429.6,x1:1013.75,y0:337,y1:641.7};
  const sx=v=>622+65.9*v, sy=v=>628.3-24.22*v;
  drawFrame(g,f,sx,sy,dXTicks,dYTicks,[-1,1,3,5],[1.5,4.5,7.5,10.5],424,656);
  drawMass(g,dGreyMass,sx,sy,'#bdbdbd',1,6,'non-significant-mass');
  drawDots(g,dGreyPoints,sx,sy,'#bdbdbd',.7,'non-significant-point');
  drawMass(g,dBlueMass,sx,sy,'#0808ff',1,2,'down-regulated-mass');
  drawDots(g,dBluePoints,sx,sy,'#1f1fff',.5,'down-regulated-point');
  drawMass(g,dRedMass,sx,sy,'#ff2020',.72,0,'up-regulated-outer-mass');
  drawMass(g,dRedCore,sx,sy,'#ff0606',1,0,'up-regulated-core-mass');
  drawDots(g,dRedPoints,sx,sy,'#ff2020',.48,'up-regulated-point');
  drawOpen(g,dOpenPoints,sx,sy);
  drawThresholds(g,f,sx,sy,dThresholdsX,dThresholdY);
  drawBorder(g,f);
})();

/* ---------- Panel F ---------- */
(function(){
  const g=document.getElementById('sashimi');
  const sx=bp=>589+bp*(383.3/sashimiSpan);
  const bez=(a,b,c,d,t)=>{const u=1-t;return u*u*u*a+3*u*u*t*b+3*u*t*t*c+t*t*t*d;};
  const c1Frac=[0,.16,.04], c2Frac=[.63,.77,.96], labelT=[.6,.55,.5];
  function track(base,cov,fill,arcCol,reads,from,to,c1,c2,name){
    const sy=v=>base-v*(98.3/26);
    const pts=[[0,0]].concat(cov).concat([[sashimiSpan,0]]);
    const area=el(g,'polygon',{points:polyPoints(pts,sx,sy),fill:fill});
    
    
    sashimiYTicks.forEach(v=>{
      const tk=el(g,'line',{x1:585.5,x2:589,y1:sy(v),y2:sy(v),stroke:'#333','stroke-width':.8});
      
      
      const t=el(g,'text',{x:581,y:sy(v)+3.2,'text-anchor':'end','font-size':8.8,fill:'#222'},String(v));
      
      
    });
    const ya=el(g,'line',{x1:589,x2:589,y1:sy(26),y2:sy(0),stroke:'#333','stroke-width':.9});
    
    
    const zero=el(g,'line',{x1:585.5,x2:589,y1:sy(0),y2:sy(0),stroke:'#333','stroke-width':.8});
    
    
    reads.forEach((n,i)=>{
      const a=sx(junctionStart[i]),d=sx(junctionEnd[i]),L=d-a;
      const b=a+L*c1Frac[i],c=a+L*c2Frac[i];
      const ya0=sy(from[i]),yb=sy(c1[i]),yc=sy(c2[i]),yd=sy(to[i]);
      const arc=el(g,'path',{d:'M'+a+' '+ya0+'C'+b+' '+yb+' '+c+' '+yc+' '+d+' '+yd,fill:'none',stroke:arcCol,'stroke-width':.9});
      
      
      const lx=bez(a,b,c,d,labelT[i]),ly=bez(ya0,yb,yc,yd,labelT[i]);
      const bg=el(g,'rect',{x:lx-7,y:ly-5,width:14,height:10,fill:'#fff'});
      
      
      const t=el(g,'text',{x:lx,y:ly+2.6,'text-anchor':'middle','font-size':7.2,fill:'#222'},String(n));
      
      
    });
  }
  track(811,appCoverage,'#8028dc','#b48cf0',appJunctionReads,appArcFrom,appArcTo,appArcC1,appArcC2,'app');
  track(925,ntgCoverage,'#e02a2a','#f08a8a',ntgJunctionReads,ntgArcFrom,ntgArcTo,ntgArcC1,ntgArcC2,'ntg');
  const ax=el(g,'line',{x1:589,x2:972.3,y1:959.3,y2:959.3,stroke:'#333','stroke-width':.9});
  
  
  sashimiXTicks.forEach(v=>{
    const x=sx(v-sashimiStart);
    const tk=el(g,'line',{x1:x,x2:x,y1:959.3,y2:962.5,stroke:'#333','stroke-width':.8});
    
    
    const t=el(g,'text',{x:x,y:971.7,'text-anchor':'middle','font-size':8,fill:'#222'},String(v));
    
    
  });
  const m=document.getElementById('gene-models');
  function model(y0,h,exons,name){
    const cy=y0+h/2;
    const ln=el(m,'line',{x1:sx(0),x2:sx(sashimiSpan),y1:cy,y2:cy,stroke:'#777','stroke-width':.9});
    
    
    let d='';
    for(let x=sx(123)+5;x<sx(2658)-3;x+=7.67){d+='M'+x+' '+(cy-6)+'L'+(x+3)+' '+cy+'L'+x+' '+(cy+6);}
    const ch=el(m,'path',{d:d,fill:'none',stroke:'#666','stroke-width':.8});
    
    
    exons.forEach(e=>{
      const r=el(m,'rect',{x:sx(e[0]),y:y0,width:sx(e[1])-sx(e[0]),height:h,fill:'#000'});
      
      
    });
  }
  model(1007.7,18,modelExons130735,'model-130735');
  model(1043.3,17.4,modelExons133814,'model-133814');
})();

/* ---------- Box plots ---------- */
function drawBoxPlot(id,cfg){
  const g=document.getElementById(id);
  const sy=cfg.sy, sx=(cat,j)=>cfg.cat0+(cat+(j||0))*cfg.unit;
  const ax=el(g,'path',{d:'M'+cfg.ax+' '+cfg.top+'V'+cfg.bottom+'H'+cfg.right,fill:'none',stroke:'#444','stroke-width':1.2});
  
  
  cfg.ticks.forEach(v=>{
    const t=el(g,'text',{x:cfg.ax-cfg.tickGap,y:sy(v)+5.2,'text-anchor':'end','font-size':15,fill:'#222'},v.toFixed(1));
    
    
    const tk=el(g,'line',{x1:cfg.ax-2.5,x2:cfg.ax,y1:sy(v),y2:sy(v),stroke:'#444','stroke-width':1});
    
    
  });
  boxCategories.forEach((name,i)=>{
    const cx=sx(i), w=.75*cfg.unit;
    const tk=el(g,'line',{x1:cx,x2:cx,y1:cfg.bottom,y2:cfg.bottom+2.5,stroke:'#444','stroke-width':1});
    
    
    const wh=el(g,'line',{x1:cx,x2:cx,y1:sy(cfg.low[i]),y2:sy(cfg.high[i]),stroke:'#555','stroke-width':1});
    
    
    const box=el(g,'rect',{x:cx-w/2,y:sy(cfg.q3[i]),width:w,height:sy(cfg.q1[i])-sy(cfg.q3[i]),fill:i?'#FB7268':'#2D9FDD',stroke:'#555','stroke-width':1});
    
    
    const med=el(g,'line',{x1:cx-w/2,x2:cx+w/2,y1:sy(cfg.med[i]),y2:sy(cfg.med[i]),stroke:'#2a2a2a','stroke-width':1.5});
    
    
    const lab=el(g,'text',{x:cx,y:cfg.catBase,'text-anchor':'middle','font-size':15.5,fill:'#222'},name);
    
    
    cfg.pts[i].forEach(p=>{
      const c=el(g,'circle',{cx:sx(i,p[0]),cy:sy(p[1]),r:1.6,fill:'#000'});
      
      
    });
  });
}
drawBoxPlot('box-g1',{ax:61.7,top:1037.3,bottom:1259.3,right:270,cat0:118.8,unit:95.1,tickGap:4.5,catBase:1275,
  sy:v=>1117.7-(v-2)*162.7,ticks:g1Ticks,q1:g1Q1,med:g1Median,q3:g1Q3,low:g1Low,high:g1High,pts:[g1NtgPoints,g1AppPoints]});
drawBoxPlot('box-g2',{ax:343.5,top:1037.3,bottom:1259.3,right:551.7,cat0:400.2,unit:95.1,tickGap:4.5,catBase:1275,
  sy:v=>1099.3-(v-.9)*214.5,ticks:g2Ticks,q1:g2Q1,med:g2Median,q3:g2Q3,low:g2Low,high:g2High,pts:[g2NtgPoints,g2AppPoints]});
drawBoxPlot('box-h',{ax:634.7,top:1100.7,bottom:1257,right:974.3,cat0:727.3,unit:154.4,tickGap:5.5,catBase:1272,
  sy:v=>1145.3-(v-6)*226.7,ticks:hTicks,q1:hQ1,med:hMedian,q3:hQ3,low:hLow,high:hHigh,pts:[hNtgPoints,hAppPoints]});
</script>
</body>
</html>
